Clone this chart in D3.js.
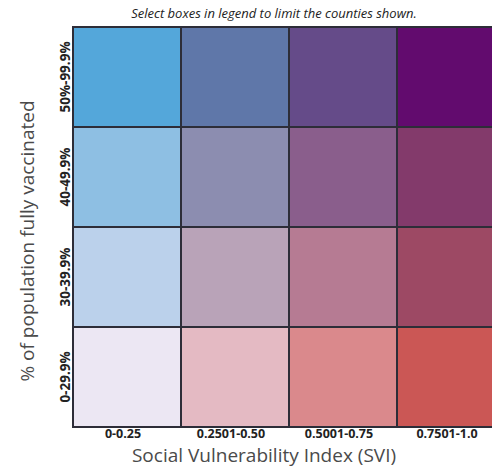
<!DOCTYPE html>
<html>
<head>
<meta charset="utf-8">
<script src="https://cdn.jsdelivr.net/npm/d3@7"></script>
<style>
  html, body { margin: 0; padding: 0; background: #fff; }
  svg { display: block; }
</style>
</head>
<body>
<script>
// ---- data ----
const sviCategories = ["0-0.25", "0.2501-0.50", "0.5001-0.75", "0.7501-1.0"];
const vaxCategories = ["0-29.9%", "30-39.9%", "40-49.9%", "50%-99.9%"];
// bivariate palette: rows = vaccination (low -> high), cols = SVI (low -> high)
const palette = [
  ["#ECE7F3", "#E4BAC3", "#DA898C", "#CB5755"],
  ["#BBD1EB", "#B9A3B8", "#B67B93", "#9D4964"],
  ["#8EBFE3", "#8C8DB0", "#8A5E8C", "#833A6B"],
  ["#54A7DA", "#5F77A9", "#654B89", "#620B6E"]
];
const titleText = "Select boxes in legend to limit the counties shown.";
const xTitle = "Social Vulnerability Index (SVI)";
const yTitle = "% of population fully vaccinated";

// ---- layout ----
const W = 492, H = 468;
const mLeft = 73, mTop = 27, cellW = 108, cellH = 100;

const svg = d3.select("body").append("svg").attr("width", W).attr("height", H);

const x = d3.scaleBand().domain(sviCategories).range([mLeft, mLeft + cellW * 4]).padding(0);
const y = d3.scaleBand().domain(vaxCategories.slice().reverse()).range([mTop, mTop + cellH * 4]).padding(0);

const cells = [];
vaxCategories.forEach((v, i) => sviCategories.forEach((s, j) => cells.push({ v, s, c: palette[i][j] })));

svg.append("g").selectAll("rect").data(cells).join("rect")
  .attr("x", d => x(d.s))
  .attr("y", d => y(d.v))
  .attr("width", x.bandwidth())
  .attr("height", y.bandwidth())
  .attr("fill", d => d.c)
  .attr("stroke", "#2d2d38")
  .attr("stroke-width", 2);

// title
svg.append("text")
  .attr("x", 274).attr("y", 18)
  .attr("text-anchor", "middle")
  .attr("font-family", "'Open Sans', sans-serif")
  .attr("font-style", "italic")
  .attr("font-size", 13)
  .attr("fill", "#222")
  .text(titleText);

// x tick labels
const xAxis = d3.axisBottom(x).tickSize(0).tickPadding(0);
const gx = svg.append("g").attr("transform", `translate(-4, ${mTop + cellH * 4})`).call(xAxis);
gx.select(".domain").remove();
gx.selectAll("text")
  .attr("dy", null).attr("y", 11)
  .attr("font-family", "'Open Sans', sans-serif")
  .attr("font-weight", "bold")
  .attr("font-size", 12.5)
  .attr("fill", "#222");

// y tick labels
const yAxis = d3.axisLeft(y).tickSize(0).tickPadding(0);
const gy = svg.append("g").attr("transform", `translate(${mLeft}, 0)`).call(yAxis);
gy.select(".domain").remove();
gy.selectAll("text")
  .attr("x", null).attr("dy", null)
  .attr("text-anchor", "middle")
  .attr("transform", "translate(-3,0) rotate(-90)")
  .attr("font-family", "'Open Sans', sans-serif")
  .attr("font-weight", "bold")
  .attr("font-size", 13.5)
  .attr("fill", "#222");

// axis titles
svg.append("text")
  .attr("x", 264).attr("y", 462)
  .attr("text-anchor", "middle")
  .attr("font-family", "'Open Sans', sans-serif")
  .attr("font-size", 19)
  .attr("fill", "#4a4a4a")
  .text(xTitle);

svg.append("text")
  .attr("transform", "translate(34, 241) rotate(-90)")
  .attr("text-anchor", "middle")
  .attr("font-family", "'Open Sans', sans-serif")
  .attr("font-size", 19)
  .attr("fill", "#4a4a4a")
  .text(yTitle);
</script>
</body>
</html>
